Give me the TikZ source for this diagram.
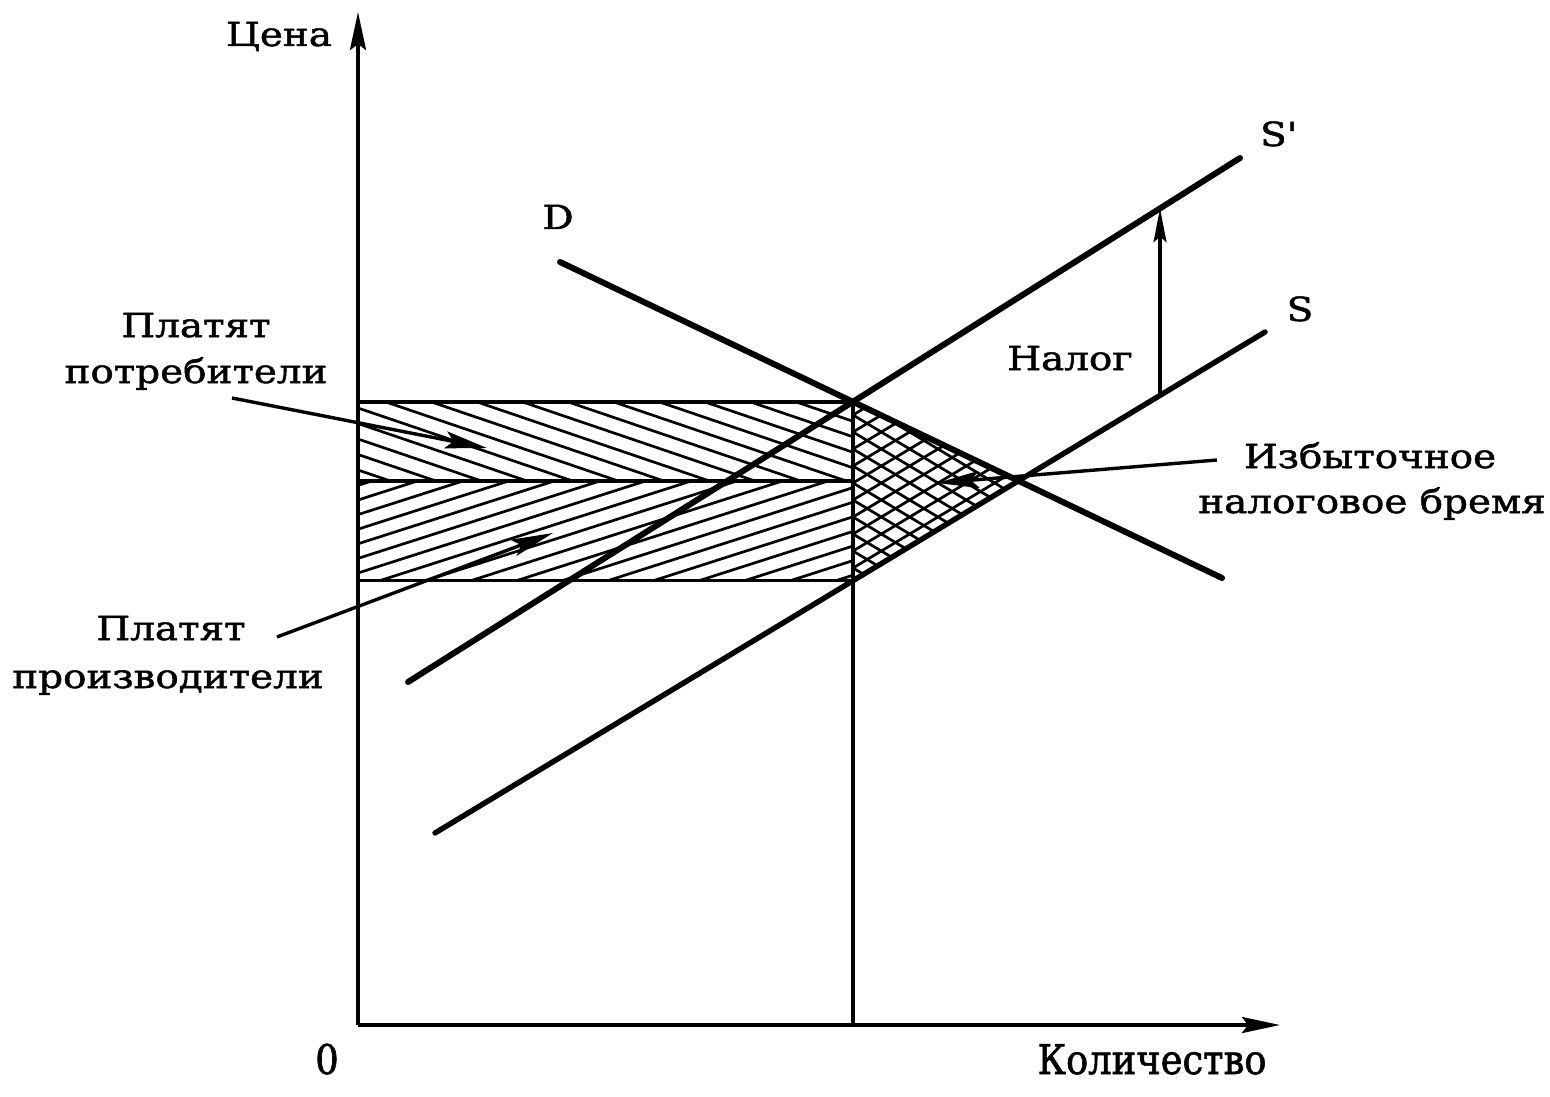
\documentclass[tikz,border=0pt]{standalone}
\usepackage{fontspec}
\setmainfont{DejaVu Serif}[FakeStretch=1.17,FakeBold=1.5]
\newfontfamily\condfont{DejaVu Serif Condensed}[FakeBold=1.5]
\usetikzlibrary{arrows.meta,intersections,calc}
\begin{document}
\begin{tikzpicture}[x=0.5pt,y=-0.5pt,
  axisline/.style={line width=1.9pt,-{Stealth[length=19pt,width=8pt,inset=3pt]}},
  curveline/.style={line width=3pt,line cap=round},
  guideline/.style={line width=1.7pt},
  hatchline/.style={line width=1.35pt},
  taxarrow/.style={line width=1.6pt,-{Stealth[length=17pt,width=6.5pt,inset=3pt]}},
  pointer/.style={line width=1.7pt,-{Stealth[length=21pt,width=8.5pt,inset=4pt]}},
  lbl/.style={font=\fontsize{16.6}{18}\selectfont,inner sep=0pt,anchor=base},
  axlbl/.style={font=\condfont\fontsize{20.5}{22}\selectfont,inner sep=0pt,anchor=base}
]
\useasboundingbox (0,0) rectangle (1550,1096);

% key points
\coordinate (O) at (358,1025);
\coordinate (Ytop) at (358,12);
\coordinate (Xend) at (1280,1025);
\coordinate (D1) at (560,262);  \coordinate (D2) at (1222,578);
\coordinate (Sp1) at (408,682); \coordinate (Sp2) at (1240,158);
\coordinate (S1) at (435,833);  \coordinate (S2) at (1265,332);
\path[name path=Dpath] (D1) -- (D2);
\path[name path=Sppath] (Sp1) -- (Sp2);
\path[name path=Spath] (S1) -- (S2);
\path[name intersections={of=Dpath and Sppath, by=E1}];
\path[name intersections={of=Dpath and Spath, by=E0}];
\path[name path=vert] (E1) -- (E1 |- O);
\path[name intersections={of=vert and Spath, by=Eb}];
\path[name path=taxv] (1160,100) -- (1160,900);
\path[name intersections={of=taxv and Spath, by=Tb}];
\path[name intersections={of=taxv and Sppath, by=Tt}];

% hatching: consumers (upper band)
\begin{scope}
  \clip (O |- E1) rectangle (E1 |- E0);
  \foreach \k in {-13,...,5}
    \draw[hatchline] (358,{408+\k*15.5}) -- (870,{408+\k*15.5+0.34*512});
\end{scope}
% hatching: producers (lower band)
\begin{scope}
  \clip (O |- E0) rectangle (Eb);
  \foreach \k in {-2,...,19}
    \draw[hatchline] (358,{500+\k*14.6}) -- (870,{500+\k*14.6-0.32*512});
\end{scope}
% cross hatching: excess burden triangle
\begin{scope}
  \clip (E1) -- (E0) -- (Eb) -- cycle;
  \foreach \k in {-9,...,18} {
    \draw[hatchline] (853,{398+\k*17}) -- (1030,{398+\k*17+0.6*177});
    \draw[hatchline] (853,{398+\k*17}) -- (1030,{398+\k*17-0.6*177});
  }
\end{scope}

% guide lines
\draw[guideline] (O |- E1) -- (E1);
\draw[guideline] (O |- E0) -- (E1 |- E0);
\draw[guideline] (O |- Eb) -- (Eb);
\draw[guideline] (E1) -- (E1 |- O);

% curves
\draw[curveline] (D1) -- (D2);
\draw[curveline] (Sp1) -- (Sp2);
\draw[curveline,line width=2.7pt] (S1) -- (S2);

% axes
\draw[axisline] (O) -- (Ytop);
\draw[axisline] (O) -- (Xend);

% tax arrow
\draw[taxarrow] (Tb) -- (Tt);

% labels
\node[lbl] (cena) at (279,46) {Цена};
\node[lbl] (dlab) at (558,229) {D};
\node[lbl] (splab) at (1278,146) {S\textquotesingle};
\node[lbl] (slab) at (1300,321) {S};
\node[lbl] (nalog) at (1070,370) {Налог};
\node[lbl] (pc1) at (196,337) {Платят};
\node[lbl] (pc2) at (196,383) {потребители};
\node[lbl] (pp1) at (171,640) {Платят};
\node[lbl] (pp2) at (168,688) {производители};
\node[lbl] (ex1) at (1370,468) {Избыточное};
\node[lbl] (ex2) at (1372,513) {налоговое бремя};
\node[axlbl] (zero) at (327,1074) {0};
\node[axlbl] (kol) at (1152,1074) {Количество};

% pointers
\coordinate (cpS) at (232,398); \coordinate (cpE) at (487,448);
\coordinate (ppS) at (277,637); \coordinate (ppE) at (553,533);
\coordinate (epS) at (1217,460); \coordinate (epE) at (937,483);
\draw[pointer] (cpS) -- (cpE);
\draw[pointer] (ppS) -- (ppE);
\draw[pointer] (epS) -- (epE);
\end{tikzpicture}
\end{document}
